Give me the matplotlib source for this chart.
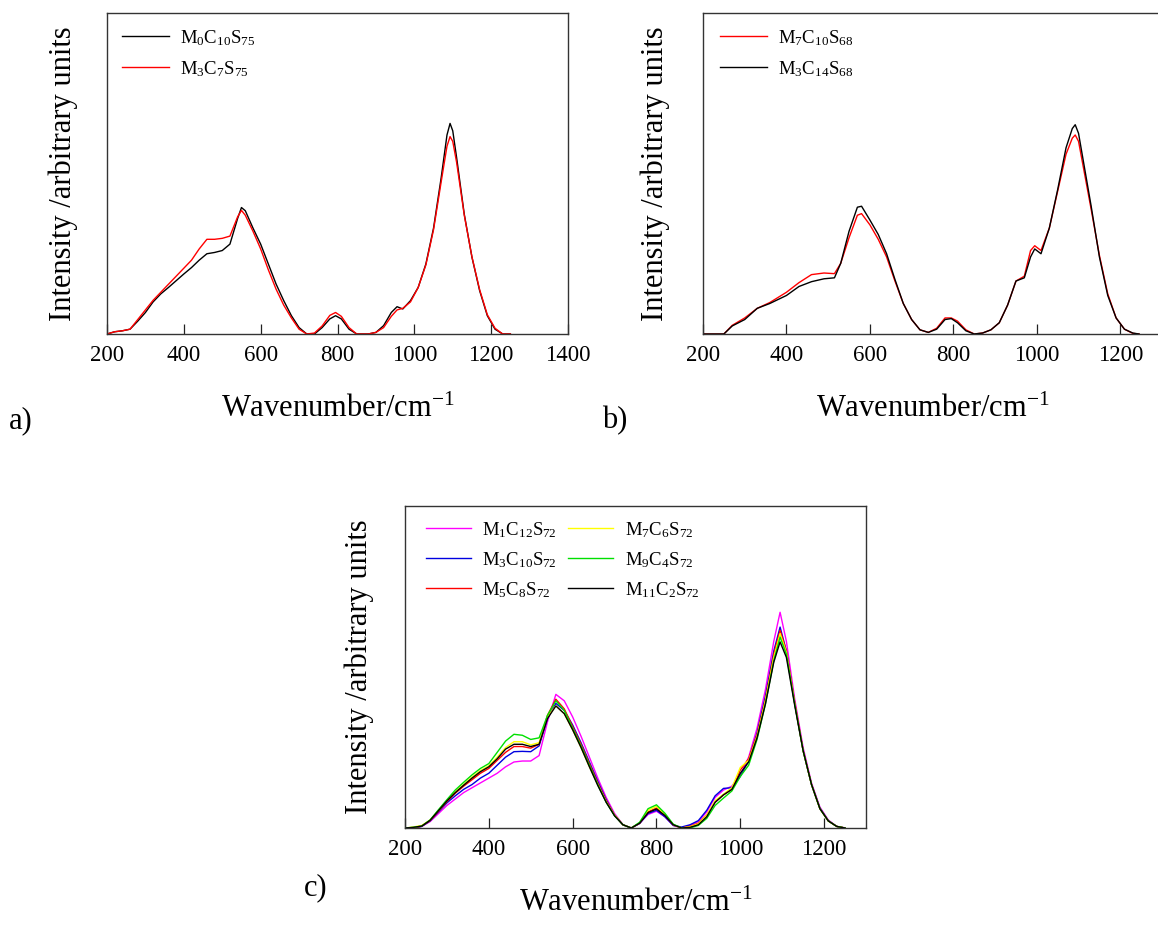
import matplotlib
matplotlib.use("Agg")
import matplotlib.pyplot as plt

plt.rcParams['font.family'] = ['Liberation Serif', 'DejaVu Serif']
plt.rcParams['mathtext.fontset'] = 'custom'
plt.rcParams['mathtext.rm'] = 'Liberation Serif'
plt.rcParams['mathtext.it'] = 'Liberation Serif:italic'
plt.rcParams['mathtext.bf'] = 'Liberation Serif:bold'

# ---------------- Panel a data ----------------
wn_a = [200, 220, 240, 260, 280, 300, 320, 340, 360, 380, 400, 420, 440, 460, 480,
        500, 520, 540, 550, 560, 580, 600, 620, 640, 660, 680, 700, 720, 740, 760,
        780, 795, 810, 830, 850, 880, 900, 920, 940, 955, 970, 990, 1010, 1030, 1050,
        1070, 1085, 1093, 1100, 1110, 1130, 1150, 1170, 1190, 1210, 1230, 1250]
a_M0C10S75 = [0, 0.7, 1.0, 1.5, 4.0, 6.7, 10.0, 12.5, 14.5, 16.6, 18.7, 20.7, 23.0, 25.0, 25.4,
              26.0, 28.0, 36.0, 39.4, 38.4, 33.0, 28.0, 21.8, 15.6, 10.4, 5.7, 2.0, 0, 0, 2.0,
              4.7, 5.7, 4.7, 1.5, 0, 0, 0.5, 2.6, 6.7, 8.5, 7.8, 10.4, 14.5, 21.8, 33.0,
              48.8, 62.0, 65.6, 63.3, 55.0, 37.3, 23.9, 13.5, 5.7, 1.5, 0, 0]
a_M3C7S75 = [0, 0.7, 1.0, 1.5, 4.5, 7.5, 10.5, 13.0, 15.5, 18.0, 20.5, 23.0, 26.5, 29.5, 29.5,
             29.8, 30.5, 36.5, 38.5, 37.0, 32.0, 26.5, 20.0, 14.0, 9.0, 5.0, 1.5, 0, 0.3, 2.5,
             5.8, 6.7, 5.5, 2.0, 0, 0, 0.5, 2.0, 5.5, 7.5, 8.0, 10.0, 14.5, 21.5, 32.5,
             47.5, 58.5, 61.5, 60.0, 53.5, 37.0, 24.0, 13.8, 6.0, 1.8, 0, 0]

# ---------------- Panel b data ----------------
wn_b = [200, 230, 250, 270, 300, 330, 360, 400, 430, 460, 490, 515, 530, 550, 570,
        580, 600, 620, 640, 660, 680, 700, 720, 740, 760, 780, 795, 810, 830, 850,
        870, 890, 910, 930, 950, 970, 985, 995, 1010, 1030, 1050, 1070, 1085, 1092,
        1100, 1110, 1130, 1150, 1170, 1190, 1210, 1230, 1245]
b_M7C10S68 = [0, 0, 0, 2.7, 5.0, 8.0, 9.8, 13.0, 16.0, 18.5, 19.0, 18.8, 22.0, 30.0, 37.0,
              37.5, 34.0, 29.5, 24.0, 16.5, 9.5, 4.5, 1.3, 0.5, 1.8, 5.0, 5.0, 4.0, 1.3, 0,
              0.3, 1.3, 3.5, 9.0, 16.5, 18.0, 26.0, 27.5, 26.0, 33.0, 44.5, 56.0, 61.0, 62.0,
              60.0, 53.0, 39.0, 24.5, 12.5, 5.0, 1.5, 0.2, 0]
b_M3C14S68 = [0, 0, 0, 2.5, 4.5, 8.0, 9.5, 12.0, 14.8, 16.3, 17.2, 17.5, 22.0, 32.0, 39.5,
              39.8, 35.5, 31.0, 25.0, 17.0, 9.5, 4.5, 1.3, 0.5, 1.5, 4.5, 4.8, 3.5, 1.0, 0,
              0.3, 1.3, 3.5, 9.0, 16.5, 17.5, 24.0, 26.5, 25.0, 33.0, 45.0, 58.0, 64.0, 65.2,
              62.5, 55.0, 40.0, 24.0, 12.0, 5.0, 1.5, 0.3, 0]

# ---------------- Panel c data ----------------
wn_c = [200, 220, 240, 260, 280, 300, 320, 340, 360, 380, 400, 420, 440, 460, 480,
        500, 520, 540, 560, 580, 600, 620, 640, 660, 680, 700, 720, 740, 760, 780,
        800, 820, 840, 860, 880, 900, 920, 940, 960, 980, 1000, 1020, 1040, 1060, 1080,
        1095, 1110, 1130, 1150, 1170, 1190, 1210, 1230, 1250]
c_M1C12S72 = [0, 0, 0.5, 2.0, 4.5, 7.0, 9.0, 11.0, 12.5, 14.0, 15.5, 17.0, 19.0, 20.5, 20.8,
              20.8, 22.5, 33.0, 41.5, 39.5, 34.5, 28.5, 22.0, 15.5, 9.5, 4.5, 1.0, 0, 1.5, 4.2,
              5.2, 3.5, 0.8, 0, 0.8, 2.0, 5.0, 9.5, 11.8, 13.0, 16.5, 22.0, 31.0, 43.0, 58.0,
              67.0, 58.0, 40.0, 25.0, 14.0, 6.5, 2.5, 0.5, 0]
c_M3C10S72 = [0, 0, 0.5, 2.2, 5.0, 7.8, 10.0, 12.0, 13.5, 15.5, 17.0, 19.5, 22.0, 23.7, 23.8,
              23.7, 25.5, 34.0, 38.7, 36.5, 32.0, 26.5, 20.5, 14.5, 8.8, 4.0, 1.0, 0, 1.4, 4.5,
              5.5, 3.5, 0.8, 0.3, 1.0, 2.3, 5.5, 10.0, 12.3, 12.5, 16.0, 21.0, 29.5, 41.0, 55.0,
              62.4, 55.0, 38.5, 24.0, 13.5, 6.2, 2.3, 0.5, 0]
c_M5C8S72 = [0, 0, 0.6, 2.3, 5.2, 8.2, 10.8, 13.0, 15.0, 17.0, 18.5, 21.0, 23.5, 25.3, 25.3,
             24.8, 26.0, 35.0, 40.0, 37.0, 31.5, 26.0, 20.0, 14.0, 8.5, 4.0, 1.0, 0, 1.5, 5.0,
             6.2, 4.0, 1.0, 0, 0.5, 1.5, 4.0, 8.0, 10.3, 12.0, 18.0, 21.5, 29.0, 40.0, 54.0,
             61.4, 55.0, 39.0, 24.0, 13.5, 6.0, 2.2, 0.5, 0]
c_M7C6S72 = [0, 0.3, 0.8, 2.5, 5.5, 8.5, 11.2, 13.5, 15.8, 17.8, 19.3, 22.0, 25.0, 26.8, 26.8,
             25.8, 26.5, 34.5, 38.0, 35.5, 30.5, 25.0, 19.0, 13.5, 8.2, 4.0, 1.0, 0, 1.6, 5.5,
             6.7, 4.3, 1.0, 0, 0.4, 1.3, 4.0, 8.5, 10.5, 12.5, 18.8, 21.0, 28.5, 39.5, 53.0,
             60.4, 54.5, 38.5, 24.0, 13.5, 6.0, 2.2, 0.5, 0]
c_M9C4S72 = [0, 0.2, 0.6, 2.5, 5.7, 8.8, 11.8, 14.2, 16.5, 18.5, 20.0, 23.5, 27.0, 29.1, 28.8,
             27.5, 28.0, 35.0, 39.5, 36.5, 31.0, 25.5, 19.5, 13.5, 8.0, 3.8, 1.0, 0, 1.8, 6.0,
             7.2, 4.6, 1.2, 0, 0, 0.8, 3.0, 7.0, 9.3, 11.5, 16.0, 19.5, 27.5, 38.5, 52.0,
             59.3, 54.0, 38.5, 24.0, 13.5, 6.0, 2.2, 0.5, 0]
c_M11C2S72 = [0, 0.2, 0.6, 2.4, 5.4, 8.4, 11.0, 13.3, 15.5, 17.5, 19.0, 21.5, 24.5, 26.0, 26.0,
              25.3, 26.0, 34.0, 37.9, 35.5, 30.5, 25.0, 19.0, 13.2, 8.0, 3.8, 1.0, 0, 1.5, 4.8,
              5.9, 3.9, 1.0, 0, 0.2, 1.0, 3.5, 8.0, 10.3, 12.0, 17.0, 20.5, 28.0, 38.5, 51.5,
              57.8, 53.0, 38.0, 24.0, 13.5, 6.0, 2.2, 0.5, 0]

labels_a = [r'M$_{0}$C$_{10}$S$_{75}$', r'M$_{3}$C$_{7}$S$_{75}$']
labels_b = [r'M$_{7}$C$_{10}$S$_{68}$', r'M$_{3}$C$_{14}$S$_{68}$']
labels_c = [r'M$_{1}$C$_{12}$S$_{72}$', r'M$_{3}$C$_{10}$S$_{72}$', r'M$_{5}$C$_{8}$S$_{72}$',
            r'M$_{7}$C$_{6}$S$_{72}$', r'M$_{9}$C$_{4}$S$_{72}$', r'M$_{11}$C$_{2}$S$_{72}$']
colors_c = ['#ff00ff', '#0000e0', '#ff0000', '#ffff00', '#00e000', '#000000']

W, H = 1158, 932
fig = plt.figure(figsize=(W / 100, H / 100), dpi=100)


def add_axes(left, top, right, bottom):
    return fig.add_axes([left / W, 1 - bottom / H, (right - left) / W, (bottom - top) / H])


def style(ax, xmax, ylab_x):
    ax.set_xlim(200, xmax)
    ax.set_ylim(0, 100)
    ax.set_yticks([])
    ax.set_xticks(list(range(200, xmax + 1, 200)))
    ax.tick_params(axis='x', direction='in', length=7.5, width=0.9, labelsize=16.5,
                   pad=8, color='#222222')
    for s in ax.spines.values():
        s.set_linewidth(1.0)
        s.set_color('#333333')
    ax.set_xlabel(r'Wavenumber/cm$^{-1}$', fontsize=22)
    ax.set_ylabel('Intensity /arbitrary units', fontsize=22)
    ax.xaxis.set_label_coords(0.5, -0.19)
    ax.yaxis.set_label_coords(ylab_x, 0.5)


# Panel a
axa = add_axes(107, 13, 568, 334)
axa.plot(wn_a, a_M0C10S75, color='black', lw=1.0, label=labels_a[0])
axa.plot(wn_a, a_M3C7S75, color='red', lw=1.0, label=labels_a[1])
style(axa, 1400, -0.062)
axa.legend(loc='upper left', bbox_to_anchor=(15 / 461, 1 - 15 / 321), frameon=False,
           fontsize=13.5, handlelength=2.5, handletextpad=0.6, labelspacing=0.6,
           borderpad=0, borderaxespad=0)

# Panel b
axb = add_axes(703, 13, 1162, 334)
axb.plot(wn_b, b_M7C10S68, color='red', lw=1.0, label=labels_b[0])
axb.plot(wn_b, b_M3C14S68, color='black', lw=1.0, label=labels_b[1])
style(axb, 1300, -0.072)
axb.legend(loc='upper left', bbox_to_anchor=(17 / 459, 1 - 15 / 321), frameon=False,
           fontsize=13.5, handlelength=2.5, handletextpad=0.6, labelspacing=0.6,
           borderpad=0, borderaxespad=0)

# Panel c
axc = add_axes(405, 506, 866, 828)
series_c = [c_M1C12S72, c_M3C10S72, c_M5C8S72, c_M7C6S72, c_M9C4S72, c_M11C2S72]
for ys, col, lab in zip(series_c, colors_c, labels_c):
    axc.plot(wn_c, ys, color=col, lw=1.0, label=lab)
style(axc, 1300, -0.067)
axc.legend(loc='upper left', bbox_to_anchor=(21 / 461, 1 - 14 / 322), frameon=False,
           ncol=2, fontsize=13.5, handlelength=2.4, handletextpad=0.6, labelspacing=0.55,
           columnspacing=0.6, borderpad=0, borderaxespad=0)

fig.text(21 / W, 1 - 421 / H, 'a)', fontsize=22, ha='center', va='center')
fig.text(615 / W, 1 - 421 / H, 'b)', fontsize=22, ha='center', va='center')
fig.text(316 / W, 1 - 888 / H, 'c)', fontsize=22, ha='center', va='center')

fig.savefig('out.png', dpi=100)
